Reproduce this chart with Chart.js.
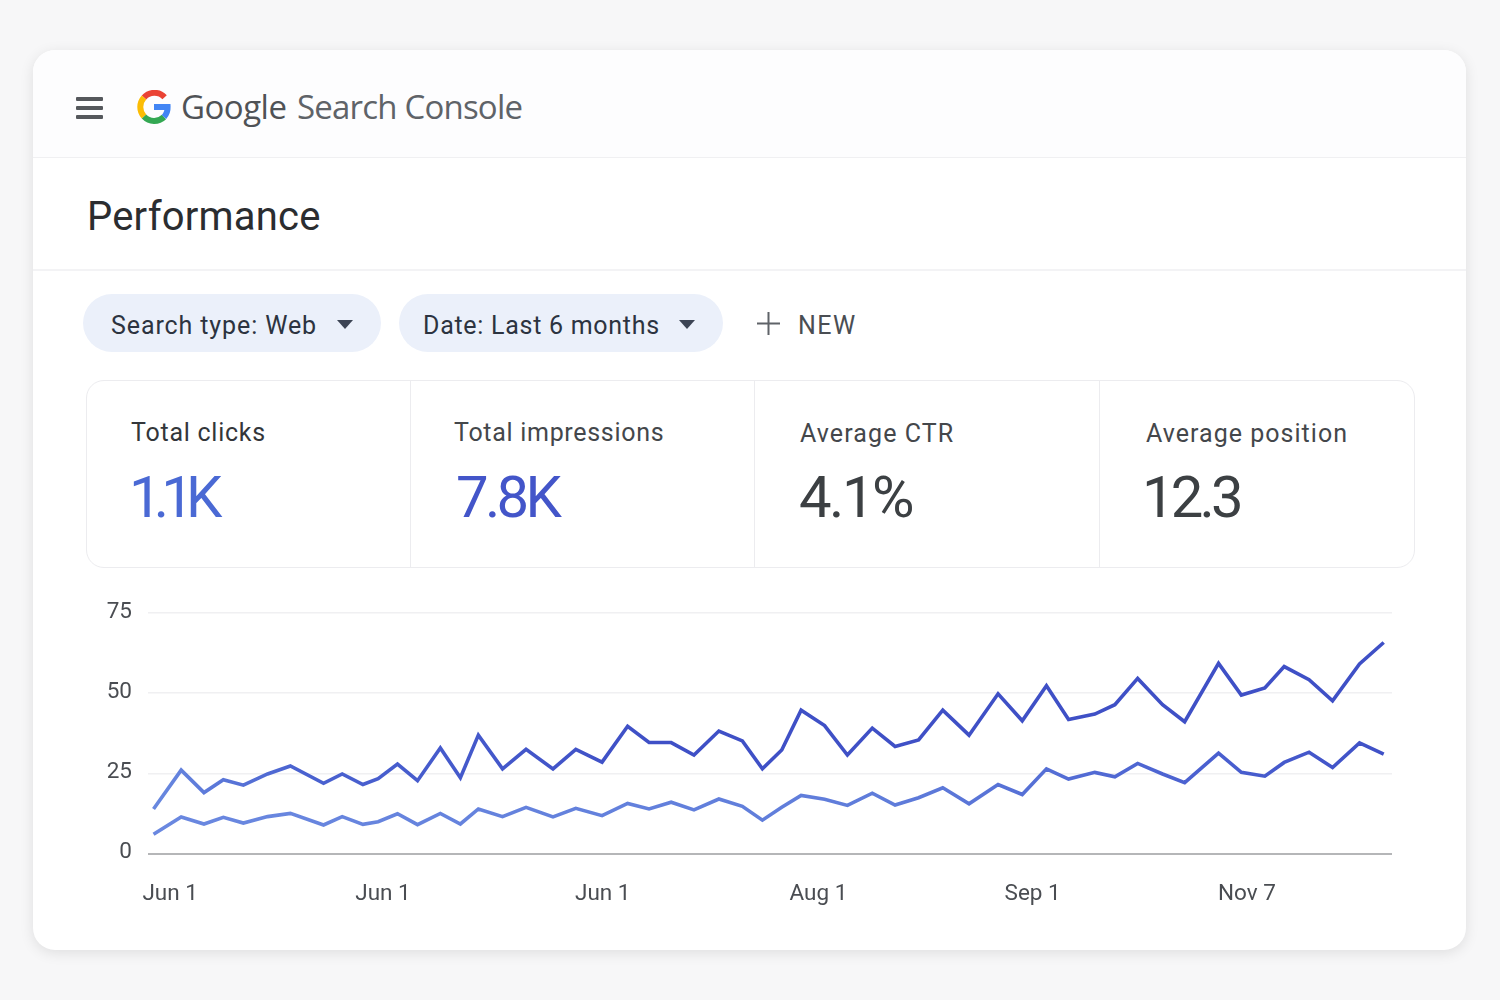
<!DOCTYPE html>
<html lang="en">
<head>
  <meta charset="UTF-8" />
  <title>Google Search Console Performance</title>
  <script src="https://cdn.jsdelivr.net/npm/chart.js"></script>
  <style>
    html, body { margin: 0; padding: 0; width: 1500px; height: 1000px; overflow: hidden; background: #f7f7f8; font-family: Roboto, sans-serif; }
    .card { position: absolute; left: 33px; top: 50px; width: 1433px; height: 900px; background: #fff; border-radius: 22px; box-shadow: 0 3px 14px rgba(0,0,0,.10); overflow: hidden; }
    .header { position: absolute; left: 0; top: 0; width: 100%; height: 107px; background: #fdfdfe; border-bottom: 1px solid #f0f0f2; }
    .rule { position: absolute; left: 0; top: 219px; width: 100%; height: 2px; background: #f3f3f5; }
    .txt { position: absolute; white-space: nowrap; line-height: 1; }
    .burger { position: absolute; left: 76px; width: 27px; height: 4px; background: #55585c; border-radius: 1px; }
    .chip { position: absolute; top: 294px; height: 58px; border-radius: 29px; background: #ebf0fa; }
    .caret { position: absolute; top: 320px; width: 0; height: 0; border-left: 8.5px solid transparent; border-right: 8.5px solid transparent; border-top: 9px solid #3c4454; }
    .metrics { position: absolute; left: 86px; top: 380px; width: 1327px; height: 186px; border: 1px solid #ececef; border-radius: 18px; }
    .vline { position: absolute; top: 381px; width: 1px; height: 186px; background: #ececef; }
    #chartBox { position: absolute; left: 90px; top: 590px; width: 1310px; height: 330px; }
  </style>
</head>
<body>
  <div class="card"></div>
  <div class="card" style="background:none;box-shadow:none">
    <div class="header"></div>
    <div class="rule"></div>
  </div>

  <div class="burger" style="top:97px"></div>
  <div class="burger" style="top:106px"></div>
  <div class="burger" style="top:115px"></div>

  <svg style="position:absolute;left:137px;top:90px" width="34" height="34" viewBox="0 0 34 34" fill="none" stroke-width="6">
    <path d="M27.6 7.2 A14 14 0 0 0 7 7.5" stroke="#ea4335" />
    <path d="M7 7.5 A14 14 0 0 0 7 26.5" stroke="#fbbc05" />
    <path d="M7 26.5 A14 14 0 0 0 27 27" stroke="#34a853" />
    <path d="M27 27 A14 14 0 0 0 30.6 17 L17 17" stroke="#4285f4" />
  </svg>
  <div class="txt" style="left:181px;top:90px;font-size:33px;color:#4f5256;font-family:'Open Sans',sans-serif;letter-spacing:-0.5px">Google</div>
  <div class="txt" style="left:297px;top:90px;font-size:33px;color:#5f6368;font-family:'Open Sans',sans-serif;letter-spacing:-0.8px">Search Console</div>

  <div class="txt" style="left:87px;top:197px;font-size:40px;color:#2b2d30;letter-spacing:0.2px">Performance</div>

  <div class="chip" style="left:83px;width:298px"></div>
  <div class="txt" style="left:111px;top:313px;font-size:25px;color:#2c3340;letter-spacing:0.9px">Search type: Web</div>
  <div class="caret" style="left:337px"></div>
  <div class="chip" style="left:399px;width:324px"></div>
  <div class="txt" style="left:423px;top:313px;font-size:25px;color:#2c3340;letter-spacing:0.72px">Date: Last 6 months</div>
  <div class="caret" style="left:679px"></div>
  <svg style="position:absolute;left:757px;top:312px" width="23" height="23"><path d="M11.5 0V23M0 11.5H23" stroke="#5f6368" stroke-width="2" /></svg>
  <div class="txt" style="left:798px;top:313px;font-size:25px;color:#4a4e53;letter-spacing:1.5px">NEW</div>

  <div class="metrics"></div>
  <div class="vline" style="left:410px"></div>
  <div class="vline" style="left:754px"></div>
  <div class="vline" style="left:1099px"></div>

  <div class="txt" style="left:131px;top:420px;font-size:25px;color:#33363a;letter-spacing:0.75px">Total clicks</div>
  <div class="txt" style="left:454px;top:420px;font-size:25px;color:#44474b;letter-spacing:0.7px">Total impressions</div>
  <div class="txt" style="left:800px;top:421px;font-size:25px;color:#44474b;letter-spacing:1.1px">Average CTR</div>
  <div class="txt" style="left:1146px;top:421px;font-size:25px;color:#44474b;letter-spacing:1.03px">Average position</div>

  <div class="txt" style="left:129px;top:468px;font-size:58px;color:#4a69d4;letter-spacing:-7.8px">1.1K</div>
  <div class="txt" style="left:456px;top:468px;font-size:58px;color:#4355c9;letter-spacing:-3.7px">7.8K</div>
  <div class="txt" style="left:799px;top:468px;font-size:58px;color:#3c4043;letter-spacing:-2.5px">4.1%</div>
  <div class="txt" style="left:1142px;top:468px;font-size:58px;color:#3c4043;letter-spacing:-3.8px">12.3</div>

  <div id="chartBox"><canvas id="perfChart" width="1310" height="330"></canvas></div>

  <script>
    // day offset within the six month window, one entry per sample
    const days = [0.8, 4.8, 8.1, 10.9, 13.8, 17.3, 20.6, 25.4, 28.1, 31.1, 33.3, 36.1, 39.0, 42.3, 45.2, 47.8, 51.3, 54.7,
      58.6, 61.9, 65.7, 69.4, 72.5, 75.7, 79.0, 82.6, 86.0, 88.9, 91.7, 94.5, 97.9, 101.2, 104.8, 108.1, 111.5, 115.0,
      118.8, 123.0, 126.5, 130.0, 133.2, 137.0, 139.9, 143.2, 146.8, 150.0, 154.9, 158.2, 161.6, 164.4, 168.0, 171.4, 175.3, 178.8];

    const impressions = [13.9, 26.0, 19.0, 23.0, 21.3, 24.8, 27.3, 21.9, 24.8, 21.5, 23.3, 27.9, 22.7, 32.9, 23.6, 36.9, 26.4, 32.5,
      26.4, 32.5, 28.5, 39.7, 34.6, 34.6, 30.7, 38.2, 35.1, 26.4, 32.3, 44.7, 39.9, 30.7, 39.1, 33.4, 35.4, 44.7,
      36.9, 49.8, 41.4, 52.3, 41.8, 43.5, 46.4, 54.6, 46.4, 41.1, 59.3, 49.4, 51.6, 58.3, 54.2, 47.6, 59.1, 65.8];

    const clicks = [6.0, 11.4, 9.2, 11.3, 9.5, 11.5, 12.5, 8.9, 11.5, 9.1, 9.9, 12.4, 9.0, 12.5, 9.2, 13.9, 11.5, 14.4,
      11.4, 14.1, 11.8, 15.6, 13.9, 16.0, 13.6, 17.0, 14.7, 10.4, 14.4, 18.1, 16.9, 15.0, 18.8, 15.1, 17.4, 20.5,
      15.5, 21.5, 18.4, 26.4, 23.2, 25.3, 23.9, 28.1, 24.8, 22.1, 31.3, 25.3, 24.1, 28.4, 31.6, 26.8, 34.5, 31.0];

    const yTicks = [0, 25, 50, 75];
    const tickDays = [3.2, 34, 65.8, 97, 128, 159];
    const tickLabels = ['Jun 1', 'Jun 1', 'Jun 1', 'Aug 1', 'Sep 1', 'Nov 7'];

    function lineGradient(stops) {
      return (context) => {
        const { ctx, chartArea } = context.chart;
        if (!chartArea) return stops[0][1];
        const g = ctx.createLinearGradient(chartArea.left, 0, chartArea.right, 0);
        stops.forEach(s => g.addColorStop(s[0], s[1]));
        return g;
      };
    }

    new Chart(document.getElementById('perfChart'), {
      type: 'line',
      data: {
        datasets: [
          {
            label: 'Total impressions',
            data: days.map((d, i) => ({ x: d, y: impressions[i] })),
            borderColor: lineGradient([[0, '#6a8ae0'], [0.12, '#4a62d0'], [0.4, '#3f50c6'], [1, '#3f50c6']]),
            borderWidth: 3.6
          },
          {
            label: 'Total clicks',
            data: days.map((d, i) => ({ x: d, y: clicks[i] })),
            borderColor: lineGradient([[0, '#6a88e0'], [0.6, '#5f7cda'], [0.85, '#4a60d0'], [1, '#3f50c6']]),
            borderWidth: 3.6
          }
        ]
      },
      options: {
        responsive: false,
        animation: false,
        layout: { padding: { top: 23, right: 8, left: 0, bottom: 0 } },
        elements: { point: { radius: 0 }, line: { tension: 0, borderJoinStyle: 'miter' } },
        plugins: { legend: { display: false }, tooltip: { enabled: false } },
        scales: {
          x: {
            type: 'linear',
            min: 0,
            max: 180,
            afterBuildTicks: (axis) => { axis.ticks = tickDays.map(v => ({ value: v })); },
            afterFit: (axis) => { axis.height = 66.5; },
            border: { display: false },
            grid: { display: false },
            ticks: {
              autoSkip: false,
              maxRotation: 0,
              padding: 19,
              color: '#4a4d52',
              font: { family: 'Roboto', size: 22.5 },
              callback: (v) => tickLabels[tickDays.indexOf(v)]
            }
          },
          y: {
            min: 0,
            max: 75,
            afterBuildTicks: (axis) => { axis.ticks = yTicks.map(v => ({ value: v })); },
            // tick padding otherwise pushes the plot area down
            afterFit: (axis) => { axis.width = 58; axis.paddingTop = 0; axis.paddingBottom = 0; },
            border: { display: false },
            grid: {
              drawTicks: false,
              lineWidth: (c) => (c.tick.value === 0 ? 2 : 1.5),
              color: (c) => (c.tick.value === 0 ? '#b5b6b8' : '#f0f0f2')
            },
            ticks: {
              padding: 16,
              color: '#4a4d52',
              font: { family: 'Roboto', size: 22.5, lineHeight: 0.1 },
              // empty second line lifts the label a little above its gridline
              callback: (v) => [String(v), '']
            }
          }
        }
      }
    });
  </script>
</body>
</html>
